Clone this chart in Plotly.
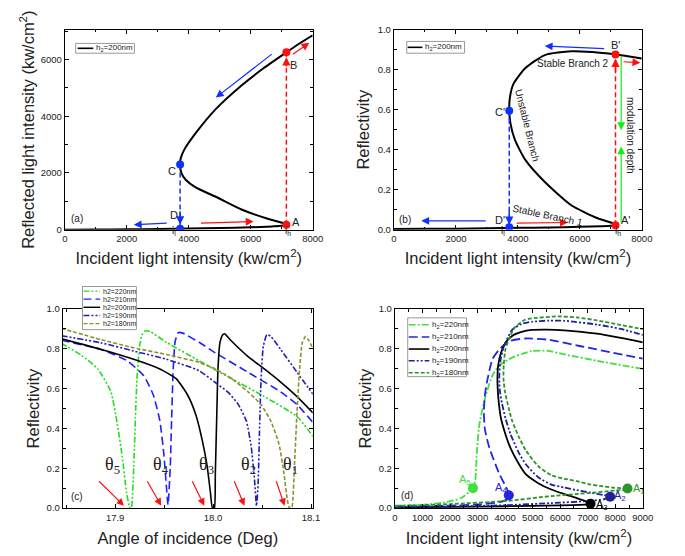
import plotly.graph_objects as go

W, H = 685, 556

# ---------------- data ----------------
# (a)/(b): h2 = 200 nm bistable response (path order along the S-curve)
incident_ab = [0, 1000, 2000, 3000, 4000, 5000, 6000, 6700, 7000, 7150, 7100, 6575, 5720,
               4870, 4234, 3900, 3760, 3720, 3740, 3860, 4234, 4870, 5720, 6400, 7150, 7600, 8000]
reflected_a = [0, 4, 10, 21, 36, 55, 84, 114, 135, 170, 215, 375, 700,
               1160, 1480, 1760, 2000, 2300, 2520, 2830, 3420, 4250, 5100, 5680, 6250, 6580, 6850]
reflectivity_b = [0.003, 0.004, 0.005, 0.007, 0.009, 0.011, 0.014, 0.017, 0.019, 0.022, 0.03, 0.057, 0.122,
                  0.238, 0.35, 0.45, 0.53, 0.595, 0.66, 0.73, 0.807, 0.873, 0.892, 0.888, 0.876, 0.866, 0.856]
i_l = 3720
i_h = 7150
pts_a_x = [7150, 7150, 3720, 3720]
pts_a_y = [170, 6250, 2300, 30]
pts_b_y = [0.022, 0.876, 0.595, 0.012]
pts_labels = ["A", "B", "C", "D"]

# (c): reflectivity vs angle of incidence
angle_220 = [17.845, 17.8657, 17.8823, 17.8957, 17.9023, 17.9073, 17.9117, 17.915, 17.9165, 17.919, 17.9207,
             17.9223, 17.925, 17.9273, 17.9307, 17.9357, 17.9523, 17.9857, 18.0, 18.019, 18.0523, 18.0857, 18.102]
refl_220 = [0.828, 0.767, 0.699, 0.584, 0.421, 0.257, 0.077, 0.0, 0.0, 0.208, 0.453,
            0.65, 0.813, 0.87, 0.89, 0.887, 0.833, 0.74, 0.70, 0.65, 0.56, 0.46, 0.36]
angle_210 = [17.845, 17.8857, 17.9123, 17.929, 17.939, 17.9457, 17.9497, 17.9523, 17.954, 17.9563, 17.9577,
             17.9593, 17.9613, 17.9647, 17.969, 17.9857, 18.0023, 18.0357, 18.069, 18.0857, 18.102]
refl_210 = [0.843, 0.797, 0.74, 0.666, 0.568, 0.437, 0.273, 0.11, 0.016, 0.208, 0.453,
            0.699, 0.838, 0.882, 0.879, 0.833, 0.78, 0.682, 0.584, 0.52, 0.43]
angle_200 = [17.845, 17.8857, 17.919, 17.9457, 17.9623, 17.974, 17.9823, 17.989, 17.994, 17.9973, 17.9993,
             18.0013, 18.0023, 18.0037, 18.005, 18.007, 18.0097, 18.0117, 18.019, 18.0357, 18.0523, 18.069,
             18.0857, 18.102]
refl_200 = [0.851, 0.797, 0.748, 0.699, 0.65, 0.568, 0.47, 0.339, 0.208, 0.077, 0.0,
            0.0, 0.175, 0.453, 0.699, 0.83, 0.87, 0.876, 0.838, 0.761, 0.699, 0.633,
            0.56, 0.478]
angle_190 = [17.845, 17.8857, 17.919, 17.9523, 17.9857, 18.0023, 18.0157, 18.0257, 18.034, 18.039, 18.0423,
             18.0443, 18.046, 18.0473, 18.049, 18.0513, 18.055, 18.059, 18.069, 18.0857, 18.102]
refl_190 = [0.866, 0.83, 0.789, 0.748, 0.69, 0.63, 0.58, 0.52, 0.437, 0.306, 0.142,
            0.011, 0.126, 0.372, 0.65, 0.813, 0.871, 0.862, 0.797, 0.682, 0.572]
angle_180 = [17.845, 17.8857, 17.919, 17.9523, 17.9857, 18.0023, 18.019, 18.0357, 18.049, 18.059, 18.0673,
             18.0723, 18.0757, 18.078, 18.0803, 18.083, 18.0857, 18.0883, 18.091, 18.0943, 18.0973, 18.102]
refl_180 = [0.903, 0.846, 0.805, 0.772, 0.732, 0.699, 0.65, 0.584, 0.519, 0.437, 0.322,
            0.175, 0.044, 0.0, 0.0, 0.208, 0.486, 0.699, 0.83, 0.862, 0.846, 0.80]
theta_labels = ["θ<sub>5</sub>", "θ<sub>4</sub>", "θ<sub>3</sub>", "θ<sub>2</sub>", "θ<sub>1</sub>"]
theta_tail_x = [17.882, 17.932, 17.978, 18.021, 18.064]
theta_head_x = [17.909, 17.947, 17.991, 18.032, 18.073]

# (d): reflectivity vs incident intensity for several h2
inc_220 = [0, 1000, 1800, 2400, 2830, 2920, 2969, 3064, 3302, 3539, 3777, 4252, 4964, 5558, 6152, 7340, 9000]
ref_220 = [0.012, 0.016, 0.028, 0.05, 0.1, 0.142, 0.273, 0.42, 0.568, 0.666, 0.715, 0.756, 0.789, 0.79, 0.772, 0.74, 0.699]
inc_210 = [0, 2000, 3000, 3800, 4100, 4133, 4100, 4014, 3777, 3420, 3260, 3230, 3260, 3350, 3539, 3777, 4133,
           4727, 5558, 6746, 9000]
ref_210 = [0.007, 0.012, 0.018, 0.03, 0.045, 0.064, 0.085, 0.11, 0.175, 0.306, 0.4, 0.48, 0.56, 0.64, 0.748,
           0.795, 0.838, 0.852, 0.846, 0.813, 0.751]
inc_200 = [0, 2000, 4000, 6000, 7000, 7102, 7000, 6600, 6152, 5677, 5202, 4750, 4489, 4200, 4014, 3850, 3777,
           3730, 3720, 3750, 3850, 4014, 4252, 4600, 4964, 5500, 6152, 7340, 8200, 9000]
ref_200 = [0.004, 0.006, 0.009, 0.013, 0.018, 0.022, 0.03, 0.05, 0.07, 0.093, 0.125, 0.17, 0.224, 0.3, 0.37,
           0.45, 0.52, 0.6, 0.65, 0.72, 0.78, 0.83, 0.865, 0.885, 0.895, 0.897, 0.893, 0.876, 0.855, 0.833]
inc_190 = [0, 2000, 4000, 5677, 7000, 7600, 7815, 7600, 7102, 6600, 6152, 5677, 5202, 4750, 4489, 4200, 4014,
           3880, 3800, 3790, 3830, 3950, 4252, 4600, 4964, 5600, 6152, 7340, 8200, 9000]
ref_190 = [0.005, 0.008, 0.014, 0.025, 0.035, 0.045, 0.057, 0.065, 0.077, 0.09, 0.103, 0.118, 0.155, 0.22,
           0.28, 0.37, 0.45, 0.53, 0.6, 0.67, 0.74, 0.81, 0.895, 0.925, 0.936, 0.942, 0.941, 0.922, 0.9, 0.87]
inc_180 = [0, 2000, 4000, 5677, 7000, 8000, 8400, 8444, 8200, 7933, 7500, 7102, 6600, 6152, 5677, 5202, 4750,
           4489, 4250, 4133, 4000, 3940, 3950, 4014, 4200, 4370, 4700, 4964, 5914, 6600, 7340, 8200, 9000]
ref_180 = [0.01, 0.02, 0.035, 0.06, 0.075, 0.088, 0.093, 0.098, 0.1, 0.102, 0.11, 0.118, 0.135, 0.147, 0.165,
           0.21, 0.29, 0.36, 0.44, 0.5, 0.58, 0.65, 0.72, 0.8, 0.87, 0.91, 0.945, 0.953, 0.963, 0.958, 0.943,
           0.92, 0.899]
a_pts_x = [8444, 7815, 7102, 4133, 2830]
a_pts_y = [0.098, 0.057, 0.022, 0.064, 0.1]
a_pts_names = ["A<sub>1</sub>", "A<sub>2</sub>", "A<sub>3</sub>", "A<sub>4</sub>", "A<sub>5</sub>"]

legend_c = ["h2=220nm", "h2=210nm", "h2=200nm", "h2=190nm", "h2=180nm"]
legend_d = ["h<sub>2</sub>=220nm", "h<sub>2</sub>=210nm", "h<sub>2</sub>=200nm",
            "h<sub>2</sub>=190nm", "h<sub>2</sub>=180nm"]

# ---------------- styling ----------------
FONT = "Arial, Liberation Sans, sans-serif"
SERIF = "Times New Roman, Liberation Serif, serif"
RED = "#ff1010"
BLUE = "#1030ff"
LGREEN = "#10ee10"

c_cols = ["#22dd22", "#2020ff", "black", "#2020b0", "#8f8f30"]
c_dash = ["6px,2px,2px,2px,2px,2px", "8px,4px", "solid", "6px,2px,2px,2px,2px,2px", "4px,2px"]
d_cols = ["#40e040", "#2424e6", "black", "#20209a", "#2a962a"]
d_dash = ["7px,2px,2px,2px", "9px,4px", "solid", "6px,2px,2px,2px,2px,2px", "4px,2px"]

# the page body adds an 8px margin around the figure; compensate in layout positions
OFF = 8


def px_x(p):
    return (p - OFF) / W


def px_y(p):
    return 1 - (p - OFF) / H


fig = go.Figure()

# ---- panel (a)
fig.add_trace(go.Scatter(x=incident_ab, y=reflected_a, mode="lines", xaxis="x", yaxis="y",
                         line=dict(color="black", width=2, shape="spline", smoothing=0.6)))
fig.add_trace(go.Scatter(x=[pts_a_x[0], pts_a_x[1]], y=[pts_a_y[0], pts_a_y[1]], mode="lines",
                         xaxis="x", yaxis="y", line=dict(color=RED, width=1.5, dash="5px,3px")))
fig.add_trace(go.Scatter(x=[pts_a_x[2], pts_a_x[3]], y=[pts_a_y[2], pts_a_y[3]], mode="lines",
                         xaxis="x", yaxis="y", line=dict(color=BLUE, width=1.5, dash="5px,3px")))
fig.add_trace(go.Scatter(x=pts_a_x, y=pts_a_y, mode="markers", xaxis="x", yaxis="y",
                         marker=dict(color=[RED, RED, BLUE, BLUE], size=8)))

# ---- panel (b)
fig.add_trace(go.Scatter(x=incident_ab, y=reflectivity_b, mode="lines", xaxis="x2", yaxis="y2",
                         line=dict(color="black", width=2, shape="spline", smoothing=0.6)))
fig.add_trace(go.Scatter(x=[pts_a_x[0], pts_a_x[1]], y=[pts_b_y[0], pts_b_y[1]], mode="lines",
                         xaxis="x2", yaxis="y2", line=dict(color=RED, width=1.5, dash="5px,3px")))
fig.add_trace(go.Scatter(x=[pts_a_x[2], pts_a_x[3]], y=[pts_b_y[2], pts_b_y[3]], mode="lines",
                         xaxis="x2", yaxis="y2", line=dict(color=BLUE, width=1.5, dash="5px,3px")))
fig.add_trace(go.Scatter(x=pts_a_x, y=pts_b_y, mode="markers", xaxis="x2", yaxis="y2",
                         marker=dict(color=[RED, RED, BLUE, BLUE], size=8)))

# ---- panel (c)
for xs, ys, col, dsh in zip([angle_220, angle_210, angle_200, angle_190, angle_180],
                            [refl_220, refl_210, refl_200, refl_190, refl_180], c_cols, c_dash):
    fig.add_trace(go.Scatter(x=xs, y=ys, mode="lines", xaxis="x3", yaxis="y3",
                             line=dict(color=col, width=1.6, dash=dsh, shape="spline", smoothing=0.5)))

# ---- panel (d)
for xs, ys, col, dsh in zip([inc_220, inc_210, inc_200, inc_190, inc_180],
                            [ref_220, ref_210, ref_200, ref_190, ref_180], d_cols, d_dash):
    fig.add_trace(go.Scatter(x=xs, y=ys, mode="lines", xaxis="x4", yaxis="y4",
                             line=dict(color=col, width=1.8, dash=dsh, shape="spline", smoothing=0.6)))
a_cols = [d_cols[4], d_cols[3], "black", d_cols[1], d_cols[0]]
fig.add_trace(go.Scatter(x=a_pts_x, y=a_pts_y, mode="markers", xaxis="x4", yaxis="y4",
                         marker=dict(color=a_cols, size=10)))

ann = []
shapes = []


def arrow(xr, yr, x0, y0, x1, y1, color, width=1.2, size=1.3):
    ann.append(dict(xref=xr, yref=yr, axref=xr, ayref=yr, x=x1, y=y1, ax=x0, ay=y0, text="",
                    showarrow=True, arrowhead=2, arrowsize=size, arrowwidth=width, arrowcolor=color))


def label(xr, yr, x, y, text, size=11, color="#222", angle=0, family=FONT, **kw):
    d = dict(xref=xr, yref=yr, x=x, y=y, text=text, showarrow=False, textangle=angle,
             font=dict(family=family, size=size, color=color))
    d.update(kw)
    ann.append(d)


# (a) arrows and labels
arrow("x", "y", 6727, 6230, 4873, 4655, BLUE)
arrow("x", "y", 7309, 6150, 7892, 6590, RED)
arrow("x", "y", 3337, 230, 2225, 172, BLUE)
arrow("x", "y", 4343, 230, 6091, 287, RED)
arrow("x", "y", i_h, 5700, i_h, 6080, RED, width=1.5, size=1.1)
arrow("x", "y", i_l, 700, i_l, 180, BLUE, width=1.5, size=1.1)
label("x", "y", 7468, 286, "A")
label("x", "y", 7373, 5800, "B")
label("x", "y", 3471, 2069, "C")
label("x", "y", 3522, 500, "D")
label("x", "y", 380, 400, "(a)", size=10)
label("x", "y domain", i_h, -0.045, "i<sub>h</sub>", size=10, xanchor="left", xshift=-3)
label("x", "y domain", 4000, -0.045, "i<sub>l</sub>", size=10, xanchor="right", xshift=-11)

# (b) arrows and labels
arrow("x2", "y2", 6833, 0.905, 4867, 0.918, BLUE)
arrow("x2", "y2", 7364, 0.84, 7949, 0.835, RED)
arrow("x2", "y2", 3007, 0.044, 882, 0.044, BLUE)
arrow("x2", "y2", 3911, 0.033, 5611, 0.036, RED)
arrow("x2", "y2", i_h, 0.78, i_h, 0.855, RED, width=1.5, size=1.1)
arrow("x2", "y2", i_l, 0.1, i_l, 0.025, BLUE, width=1.5, size=1.1)
arrow("x2", "y2", 7333, 0.873, 7333, 0.4975, LGREEN, width=1.2)
arrow("x2", "y2", 7333, 0.028, 7333, 0.416, LGREEN, width=1.2)
label("x2", "y2", 7470, 0.049, "A'")
label("x2", "y2", 7152, 0.925, "B'")
label("x2", "y2", 3432, 0.587, "C'")
label("x2", "y2", 3432, 0.05, "D'")
label("x2", "y2", 350, 0.049, "(b)", size=10)
label("x2", "y2", 5787, 0.832, "Stable Branch 2", size=10)
label("x2", "y2", 4300, 0.52, "Unstable Branch", size=10, angle=76)
label("x2", "y2", 7630, 0.472, "modulation depth", size=10, angle=90)
label("x2", "y2", 4978, 0.072, "Stable Branch 1", size=10, angle=12)
label("x2", "y2 domain", i_h, -0.045, "i<sub>h</sub>", size=10, xanchor="left", xshift=-3)
label("x2", "y2 domain", 4000, -0.045, "i<sub>l</sub>", size=10, xanchor="right", xshift=-11)

# (c) arrows and theta labels
for tl, tx, hx in zip(theta_labels, theta_tail_x, theta_head_x):
    arrow("x3", "y3", tx, 0.142, hx, 0.012, RED, width=1.2, size=1.2)
    label("x3", "y3", tx + 0.015, 0.215, tl, size=18, family=SERIF)
label("x3", "y3", 17.8607, 0.06, "(c)", size=10)

# (d) point labels
a_lbl_x = [8860, 8171, 7518, 3836, 2530]
a_lbl_y = [0.097, 0.06, 0.015, 0.101, 0.142]
for nm, lx, ly, col in zip(a_pts_names, a_lbl_x, a_lbl_y, a_cols):
    label("x4", "y4", lx, ly, nm, size=11, color=col)
label("x4", "y4", 452, 0.064, "(d)", size=10)

# ---------------- manual legends ----------------
def legend_box(x0, y0, x1, y1):
    shapes.append(dict(type="rect", xref="paper", yref="paper", x0=px_x(x0), x1=px_x(x1),
                       y0=px_y(y1), y1=px_y(y0), line=dict(color="#999", width=1),
                       fillcolor="white", layer="above"))


def legend_entry(lx0, lx1, y, col, dsh, text, size, width=1.6):
    shapes.append(dict(type="line", xref="paper", yref="paper", x0=px_x(lx0), x1=px_x(lx1),
                       y0=px_y(y), y1=px_y(y), line=dict(color=col, width=width, dash=dsh),
                       layer="above"))
    ann.append(dict(xref="paper", yref="paper", x=px_x(lx1 + 1), y=px_y(y), text=text,
                    showarrow=False, xanchor="left", yanchor="middle",
                    font=dict(family=FONT, size=size, color="#222")))


legend_box(74, 38, 134, 48)
legend_entry(76, 92, 43, "black", "solid", "h<sub>2</sub>=200nm", 8)
legend_box(412, 36, 471, 48)
legend_entry(413, 428, 42, "black", "solid", "h<sub>2</sub>=200nm", 8)

legend_box(81, 286, 136, 330)
for k, y in enumerate([290.7, 298.9, 307.2, 315.6, 323.9]):
    legend_entry(82, 99, y, c_cols[k], c_dash[k], legend_c[k], 7, width=1.4)
legend_box(413, 318, 473, 378)
for k, y in enumerate([325, 337.5, 349.8, 361.8, 374]):
    legend_entry(414, 435, y, d_cols[k], d_dash[k], legend_d[k], 8, width=1.6)

# ---------------- axes ----------------
def axis(domain, rng, anchor, title=None, standoff=4, **kw):
    d = dict(domain=domain, range=rng, anchor=anchor, showline=True, linecolor="black", linewidth=1.4,
             mirror="allticks", ticks="inside", ticklen=4, tickwidth=1, tickcolor="black",
             showgrid=False, zeroline=False, tickfont=dict(family=FONT, size=9.5, color="#222"),
             minor=dict(ticks="inside", ticklen=2.5, tickwidth=1, tickcolor="black"))
    if title:
        d["title"] = dict(text=title, standoff=standoff,
                          font=dict(family=FONT, size=16.5, color="#222"))
    d.update(kw)
    return d


xt_inc = "Incident light intensity (kw/cm<sup>2</sup>)"
xa = [px_x(63), px_x(316)]
xb = [px_x(399), px_x(652)]
xc = [px_x(61), px_x(316)]
xd = [px_x(400), px_x(653)]
ytop = [px_y(228), px_y(24)]
ybot = [px_y(512), px_y(309)]

inc_ticks = [0, 2000, 4000, 6000, 8000]

fig.update_layout(
    width=W, height=H, margin=dict(l=0, r=0, t=0, b=0), showlegend=False,
    paper_bgcolor="white", plot_bgcolor="white",
    font=dict(family=FONT, color="#222"),
    xaxis=axis(xa, [0, 8000], "y", xt_inc, standoff=9, tickvals=inc_ticks, minor_dtick=1000),
    yaxis=axis(ytop, [0, 7050], "x", "Reflected light intensity (kw/cm<sup>2</sup>)", standoff=1,
               dtick=2000, minor_dtick=1000),
    xaxis2=axis(xb, [0, 8000], "y2", xt_inc, standoff=9, tickvals=inc_ticks, minor_dtick=1000),
    yaxis2=axis(ytop, [0, 1], "x2", "Reflectivity", standoff=3, dtick=0.2, tickformat=".1f",
                minor_dtick=0.1),
    xaxis3=axis(xc, [17.8467, 18.1017], "y3", "Angle of incidence (Deg)", standoff=10,
                tickvals=[17.9, 18.0, 18.1], ticktext=["17.9", "18.0", "18.1"], minor_dtick=0.05),
    yaxis3=axis(ybot, [0, 1], "x3", "Reflectivity", standoff=2, dtick=0.2, tickformat=".1f",
                minor_dtick=0.1),
    xaxis4=axis(xd, [0, 9000], "y4", xt_inc, standoff=10, dtick=1000, minor_dtick=500),
    yaxis4=axis(ybot, [0, 1], "x4", "Reflectivity", standoff=2, dtick=0.2, tickformat=".1f",
                minor_dtick=0.1),
    annotations=ann, shapes=shapes,
)

fig.write_html("out.html")
